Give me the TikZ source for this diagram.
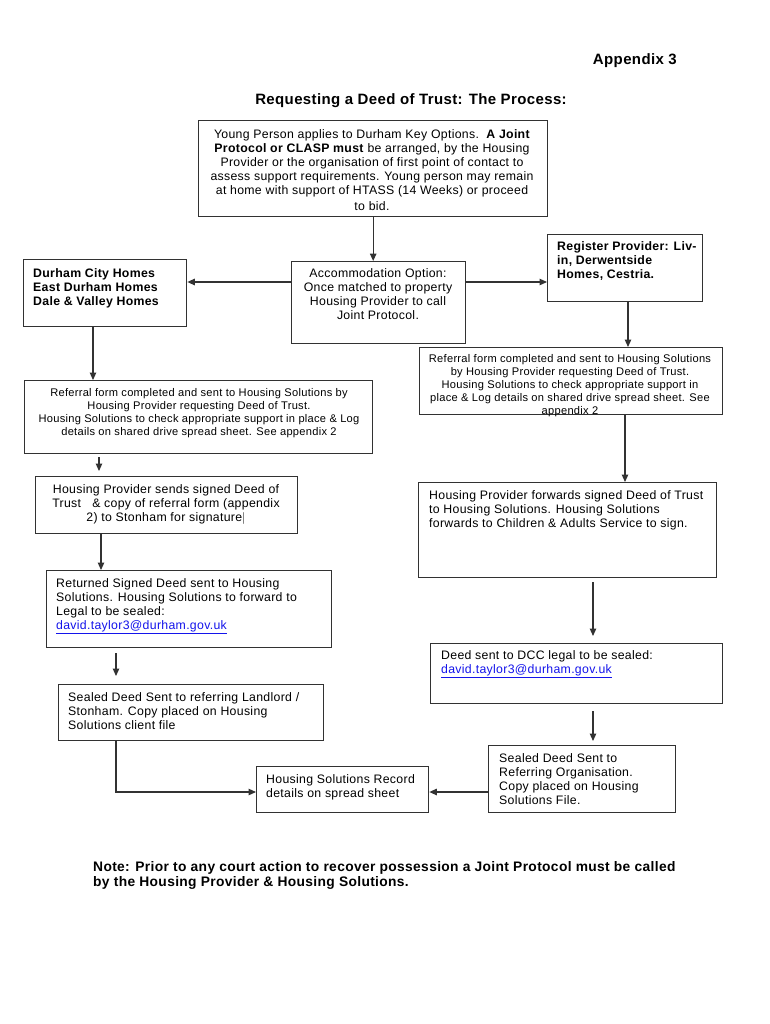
\documentclass[tikz,border=0pt]{standalone}
\usepackage{fontspec}
\setmainfont{Liberation Sans}[LetterSpace=2.5]
\usetikzlibrary{arrows.meta}
\definecolor{linkblue}{RGB}{20,20,235}
\definecolor{edge}{RGB}{50,50,50}
\newcommand{\maillink}[1]{\textcolor{linkblue}{\underline{#1}}}
\tikzset{
  boxnode/.style={draw=edge, line width=1.35pt, inner sep=0pt, anchor=north west},
  txt/.style={inner sep=0pt, anchor=north, font=\fontsize{12.3}{14}\selectfont},
  txtl/.style={inner sep=0pt, anchor=north west, align=left, font=\fontsize{12.3}{14}\selectfont},
  small/.style={inner sep=0pt, anchor=north, align=center, font=\fontsize{11.1}{13}\selectfont},
  conn/.style={draw=edge, line width=1.15pt, -{Triangle[length=7.5pt,width=6.5pt]}},
}
\newcommand{\mkbox}[5]{\node[boxnode, minimum width={#4-#2}, minimum height={#5-#3}] (#1) at (#2,#3) {};}
\begin{document}
\begin{tikzpicture}[x=1pt,y=-1pt]
\useasboundingbox (0,0) rectangle (770,1024);
\fill[white] (0,0) rectangle (770,1024);

% titles
\node[inner sep=0pt, anchor=east, font=\fontsize{15}{16}\selectfont\bfseries] (app) at (677,61) {Appendix 3};
\node[inner sep=0pt, font=\fontsize{15}{16}\selectfont\bfseries] (title) at (411,101) {Requesting a Deed of Trust: The Process:};

% boxes
\mkbox{top}{198}{120}{547}{216}
\mkbox{acc}{291}{261}{465}{343}
\mkbox{dch}{23}{259}{186}{326}
\mkbox{reg}{547}{234}{702}{301}
\mkbox{refR}{419}{347}{722}{414}
\mkbox{refL}{24}{380}{372}{453}
\mkbox{hps}{35}{476}{297}{533}
\mkbox{ret}{46}{570}{331}{647}
\mkbox{sealL}{58}{684}{323}{740}
\mkbox{rec}{256}{766}{428}{812}
\mkbox{hpf}{418}{482}{716}{577}
\mkbox{dcc}{430}{643}{722}{703}
\mkbox{sealR}{488}{745}{675}{812}

% texts
\node[txt, align=center] (ttop) at (372,129) {Young Person applies to Durham Key Options.\ \ \textbf{A Joint}\\
\textbf{Protocol or CLASP must} be arranged, by the Housing\\
Provider or the organisation of first point of contact to\\
assess support requirements. Young person may remain\\
at home with support of HTASS (14 Weeks) or proceed\\[2pt]
to bid.};
\node[txt, align=center] (tacc) at (378,268) {Accommodation Option:\\Once matched to property\\Housing Provider to call\\Joint Protocol.};
\node[txtl, font=\fontsize{12.3}{14}\selectfont\bfseries] (tdch) at (33,268) {Durham City Homes\\East Durham Homes\\Dale \& Valley Homes};
\node[txtl, font=\fontsize{12.3}{14}\selectfont\bfseries] (treg) at (557,241) {Register Provider: Liv-\\in, Derwentside\\Homes, Cestria.};
\node[small] (trefR) at (570,354) {Referral form completed and sent to Housing Solutions\\
by Housing Provider requesting Deed of Trust.\\
Housing Solutions to check appropriate support in\\
place \& Log details on shared drive spread sheet. See\\
appendix 2};
\node[small] (trefL) at (199,388) {Referral form completed and sent to Housing Solutions by\\
Housing Provider requesting Deed of Trust.\\
Housing Solutions to check appropriate support in place \& Log\\
details on shared drive spread sheet. See appendix 2};
\node[txt, align=center] (thps) at (166,484) {Housing Provider sends signed Deed of\\
Trust\ \ \ \& copy of referral form (appendix\\
2) to Stonham for signature$|$};
\node[txtl] (tret) at (56,578) {Returned Signed Deed sent to Housing\\
Solutions. Housing Solutions to forward to\\
Legal to be sealed:\\
\maillink{david.taylor3@durham.gov.uk}};
\node[txtl] (tsealL) at (68,692) {Sealed Deed Sent to referring Landlord /\\
Stonham. Copy placed on Housing\\
Solutions client file};
\node[txtl] (trec) at (266,774) {Housing Solutions Record\\details on spread sheet};
\node[txtl] (thpf) at (429,490) {Housing Provider forwards signed Deed of Trust\\
to Housing Solutions. Housing Solutions\\
forwards to Children \& Adults Service to sign.};
\node[txtl] (tdcc) at (441,650) {Deed sent to DCC legal to be sealed:\\
\maillink{david.taylor3@durham.gov.uk}};
\node[txtl] (tsealR) at (499,753) {Sealed Deed Sent to\\Referring Organisation.\\Copy placed on Housing\\Solutions File.};

\node[inner sep=0pt, anchor=north west, align=left, font=\fontsize{13.8}{15}\selectfont\bfseries] (note) at (93,861) {Note: Prior to any court action to recover possession a Joint Protocol must be called\\
by the Housing Provider \& Housing Solutions.};

% free arrow ends
\coordinate (f1s) at (99,457); \coordinate (f1e) at (99,471);
\coordinate (f2s) at (116,653); \coordinate (f2e) at (116,676);
\coordinate (f3s) at (593,582); \coordinate (f3e) at (593,636);
\coordinate (f4s) at (593,711); \coordinate (f4e) at (593,741);

% connectors
\draw[conn] (top.south) -- (acc.north -| top.south);
\draw[conn] (acc.west |- 0,282) -- (dch.east |- 0,282);
\draw[conn] (acc.east |- 0,282) -- (reg.west |- 0,282);
\draw[conn] (reg.south -| 628,0) -- (refR.north -| 628,0);
\draw[conn] (dch.south -| 93,0) -- (refL.north -| 93,0);
\draw[conn] (f1s) -- (f1e);
\draw[conn] (hps.south -| 101,0) -- (ret.north -| 101,0);
\draw[conn] (f2s) -- (f2e);
\draw[conn] (sealL.south -| 116,0) |- (rec.west |- 0,792);
\draw[conn] (refR.south -| 625,0) -- (hpf.north -| 625,0);
\draw[conn] (f3s) -- (f3e);
\draw[conn] (f4s) -- (f4e);
\draw[conn] (sealR.west |- 0,792) -- (rec.east |- 0,792);
\end{tikzpicture}
\end{document}
